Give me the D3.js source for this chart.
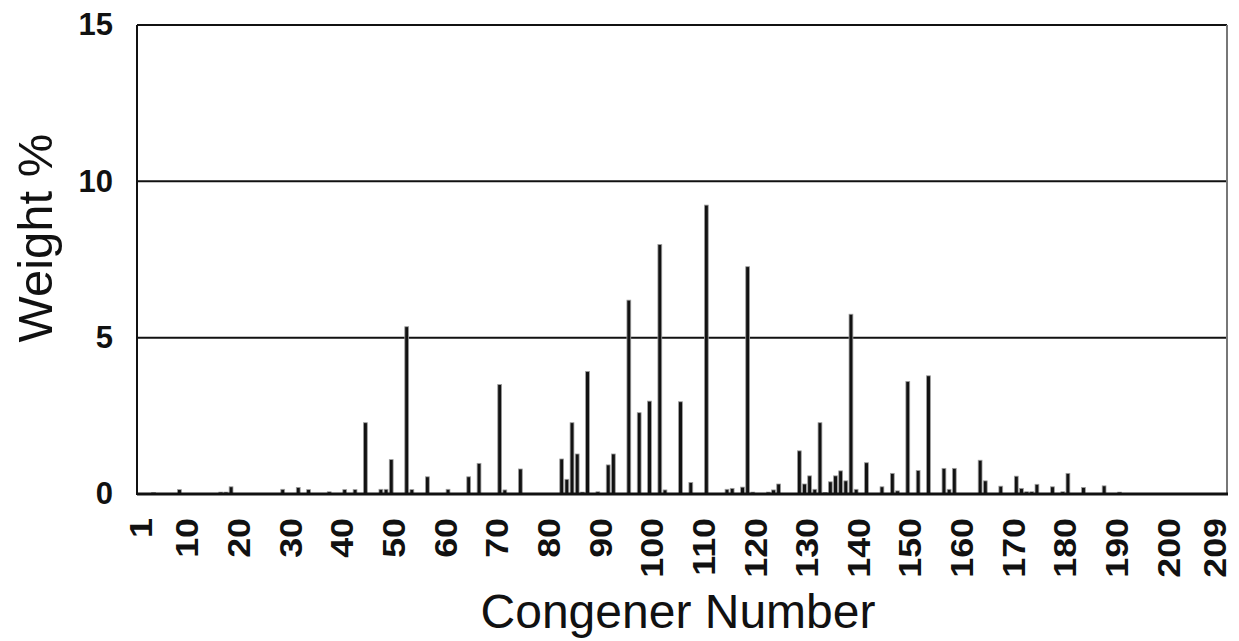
<!DOCTYPE html>
<html>
<head>
<meta charset="utf-8">
<script src="https://cdn.jsdelivr.net/npm/d3@7"></script>
<style>
  body { margin: 0; background: #fff; }
  svg { font-family: "Liberation Sans", Arial, sans-serif; }
</style>
</head>
<body>
<div id="chart"></div>
<script>
var width = 1239,
    height = 641;

// congener numbers that have a bar, and their weight %
var congeners = [3, 8, 16, 17, 18, 28, 31, 33, 37, 40, 42, 44, 47, 48, 49, 52, 53, 56, 60, 64,
    66, 70, 71, 74, 82, 83, 84, 85, 86, 87, 89, 91, 92, 95, 97, 99, 101, 102, 105, 107,
    110, 114, 115, 117, 118, 119, 122, 123, 124, 128, 129, 130, 131, 132, 133, 134, 135, 136, 137, 138,
    139, 141, 144, 146, 147, 149, 151, 153, 156, 157, 158, 163, 164, 167, 170, 171, 172, 173, 174, 177,
    179, 180, 183, 187, 190];
var weights = [0.05, 0.14, 0.06, 0.06, 0.23, 0.15, 0.21, 0.14, 0.07, 0.14, 0.14, 2.28, 0.15, 0.15, 1.1, 5.35, 0.14, 0.55, 0.15, 0.55,
    0.98, 3.5, 0.13, 0.8, 1.12, 0.47, 2.28, 1.28, 0.06, 3.92, 0.07, 0.93, 1.28, 6.2, 2.6, 2.97, 7.98, 0.13, 2.95, 0.37,
    9.24, 0.15, 0.18, 0.22, 7.27, 0.06, 0.06, 0.13, 0.32, 1.38, 0.32, 0.58, 0.15, 2.28, 0.05, 0.39, 0.58, 0.74, 0.42, 5.75,
    0.15, 1.0, 0.23, 0.66, 0.1, 3.6, 0.75, 3.78, 0.82, 0.15, 0.82, 1.08, 0.42, 0.25, 0.57, 0.18, 0.07, 0.07, 0.31, 0.23,
    0.07, 0.66, 0.21, 0.26, 0.06];

var xTickLabels = [1, 10, 20, 30, 40, 50, 60, 70, 80, 90, 100, 110, 120, 130, 140, 150, 160, 170, 180, 190, 200, 209];
var yTickValues = [0, 5, 10, 15];

var plotLeft = 137, plotRight = 1227, plotTop = 25, plotBottom = 494;

var x = d3.scaleBand()
    .domain(d3.range(1, 210))
    .range([140, 1221])
    .padding(0.26);
var y = d3.scaleLinear()
    .domain([0, 15])
    .range([plotBottom, plotTop]);

var svg = d3.select("#chart").append("svg")
    .attr("width", width)
    .attr("height", height);

// gridlines at 5 and 10
svg.selectAll("line.grid")
    .data(yTickValues.filter(function(d) { return d > 0 && d < 15; }))
    .enter().append("line")
    .attr("class", "grid")
    .attr("x1", plotLeft).attr("x2", plotRight)
    .attr("y1", function(d) { return y(d); })
    .attr("y2", function(d) { return y(d); })
    .attr("stroke", "#111")
    .attr("stroke-width", 2);

// bars
var bars = congeners.map(function(c, i) { return { n: c, v: weights[i] }; });
svg.selectAll("rect.bar")
    .data(bars)
    .enter().append("rect")
    .attr("class", "bar")
    .attr("x", function(d) { return x(d.n); })
    .attr("width", x.bandwidth())
    .attr("y", function(d) { return y(d.v); })
    .attr("height", function(d) { return y(0) - y(d.v); })
    .attr("fill", "#121212")
    .attr("stroke", "#a0a0a0")
    .attr("stroke-width", 0.8);

// plot frame
svg.append("line").attr("x1", plotLeft).attr("x2", plotRight).attr("y1", plotTop).attr("y2", plotTop)
    .attr("stroke", "#111").attr("stroke-width", 2);
svg.append("line").attr("x1", plotRight).attr("x2", plotRight).attr("y1", plotTop).attr("y2", plotBottom)
    .attr("stroke", "#777").attr("stroke-width", 2);
svg.append("line").attr("x1", plotLeft).attr("x2", plotLeft).attr("y1", plotTop).attr("y2", plotBottom + 1)
    .attr("stroke", "#111").attr("stroke-width", 2);
svg.append("line").attr("x1", plotLeft).attr("x2", plotRight + 1).attr("y1", plotBottom).attr("y2", plotBottom)
    .attr("stroke", "#111").attr("stroke-width", 3);

// y axis labels
var yAxis = d3.axisLeft(y).tickValues(yTickValues).tickSize(0).tickPadding(24);
svg.append("g")
    .attr("transform", "translate(" + plotLeft + ",0)")
    .call(yAxis)
    .call(function(g) { g.select(".domain").remove(); })
    .selectAll("text")
    .attr("font-family", "Liberation Sans, Arial, sans-serif")
    .attr("font-size", 31)
    .attr("font-weight", "bold")
    .attr("fill", "#111");

// x axis labels (rotated, a little stretched like the scan)
var xAxis = d3.axisBottom(x).tickValues(xTickLabels).tickSize(0).tickPadding(0);
svg.append("g")
    .attr("transform", "translate(0," + plotBottom + ")")
    .call(xAxis)
    .call(function(g) { g.select(".domain").remove(); })
    .selectAll("text")
    .attr("font-family", "Liberation Sans, Arial, sans-serif")
    .attr("font-size", 32)
    .attr("font-weight", "bold")
    .attr("fill", "#111")
    .attr("text-anchor", "end")
    .attr("transform", "translate(-3,24) rotate(-90) scale(1.12,1)")
    .attr("x", 0)
    .attr("y", 0)
    .attr("dy", "0.36em");

// axis titles
svg.append("text")
    .attr("transform", "translate(52,238) rotate(-90)")
    .attr("text-anchor", "middle")
    .attr("font-size", 49)
    .attr("fill", "#111")
    .text("Weight %");

svg.append("text")
    .attr("x", 678)
    .attr("y", 628)
    .attr("text-anchor", "middle")
    .attr("font-size", 48)
    .attr("fill", "#111")
    .text("Congener Number");
</script>
</body>
</html>
